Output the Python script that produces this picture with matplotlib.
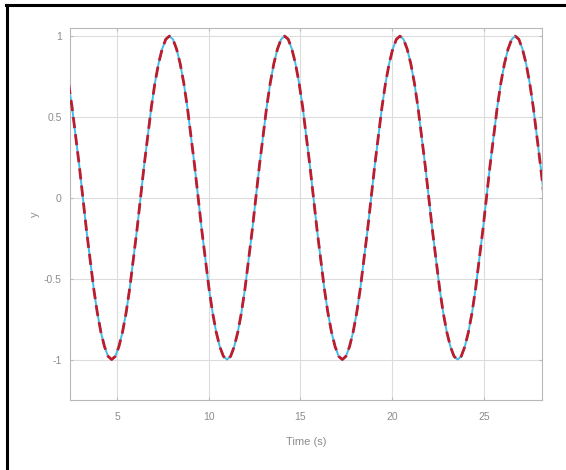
import numpy as np
import matplotlib.pyplot as plt

# time samples (s), from 3*pi/4 to 9*pi with step pi/16
t = np.linspace(0.75 * np.pi, 9 * np.pi, 133)

# measured output y(t)
y_ref = [
    0.71, 0.56, 0.38, 0.20, 0.00, -0.20, -0.38, -0.56, -0.71, -0.83, -0.92, -0.98, -1.00, -0.98, -0.92, -0.83,
    -0.71, -0.56, -0.38, -0.20, 0.00, 0.20, 0.38, 0.56, 0.71, 0.83, 0.92, 0.98, 1.00, 0.98, 0.92, 0.83,
    0.71, 0.56, 0.38, 0.20, 0.00, -0.20, -0.38, -0.56, -0.71, -0.83, -0.92, -0.98, -1.00, -0.98, -0.92, -0.83,
    -0.71, -0.56, -0.38, -0.20, 0.00, 0.20, 0.38, 0.56, 0.71, 0.83, 0.92, 0.98, 1.00, 0.98, 0.92, 0.83,
    0.71, 0.56, 0.38, 0.20, 0.00, -0.20, -0.38, -0.56, -0.71, -0.83, -0.92, -0.98, -1.00, -0.98, -0.92, -0.83,
    -0.71, -0.56, -0.38, -0.20, 0.00, 0.20, 0.38, 0.56, 0.71, 0.83, 0.92, 0.98, 1.00, 0.98, 0.92, 0.83,
    0.71, 0.56, 0.38, 0.20, 0.00, -0.20, -0.38, -0.56, -0.71, -0.83, -0.92, -0.98, -1.00, -0.98, -0.92, -0.83,
    -0.71, -0.56, -0.38, -0.20, 0.00, 0.20, 0.38, 0.56, 0.71, 0.83, 0.92, 0.98, 1.00, 0.98, 0.92, 0.83,
    0.71, 0.56, 0.38, 0.20, 0.00,
]
# estimated output (tracks the measurement)
y_est = list(y_ref)

xticks = [5, 10, 15, 20, 25]
yticks = [-1, -0.5, 0, 0.5, 1]
yticklabels = ["-1", "-0.5", "0", "0.5", "1"]

plt.rcParams['font.family'] = ['Liberation Sans', 'DejaVu Sans']

fig = plt.figure(figsize=(5.66, 4.70), dpi=100)
ax = fig.add_axes([70 / 566, 1 - 400 / 470, 472 / 566, 372 / 470])

ax.plot(t, y_ref, color='#44bbe8', lw=1.4, zorder=3)
ax.plot(t, y_est, color='#bb1d2e', lw=2.0, dashes=(4, 2.2), zorder=4)

ax.set_xlim(2.44, 28.16)
ax.set_ylim(-1.25, 1.05)
ax.set_xticks(xticks)
ax.set_yticks(yticks)
ax.set_yticklabels(yticklabels)
ax.grid(True, color='#dcdcdc', lw=0.8)
ax.tick_params(direction='in', length=2, colors='#bbbbbb', labelcolor='#8c8c8c',
               labelsize=7.5, top=True, right=True, labeltop=False, labelright=False)
ax.tick_params(axis='x', pad=9)
ax.tick_params(axis='y', pad=6)
for s in ax.spines.values():
    s.set_color('#b8b8b8')
    s.set_linewidth(0.8)

ax.set_xlabel('Time (s)', fontsize=8, color='#8c8c8c')
ax.set_ylabel('y', fontsize=8, color='#8c8c8c')
ax.xaxis.set_label_coords(0.5, -0.10)
ax.yaxis.set_label_coords(-0.064, 0.5)

# outer frame lines (top and left)
fig.add_artist(plt.Line2D([6 / 566, 1], [1 - 5 / 470, 1 - 5 / 470], color='black', lw=2.2))
fig.add_artist(plt.Line2D([7 / 566, 7 / 566], [0, 1 - 5 / 470], color='black', lw=2.2))

fig.savefig('out.png', dpi=100)
